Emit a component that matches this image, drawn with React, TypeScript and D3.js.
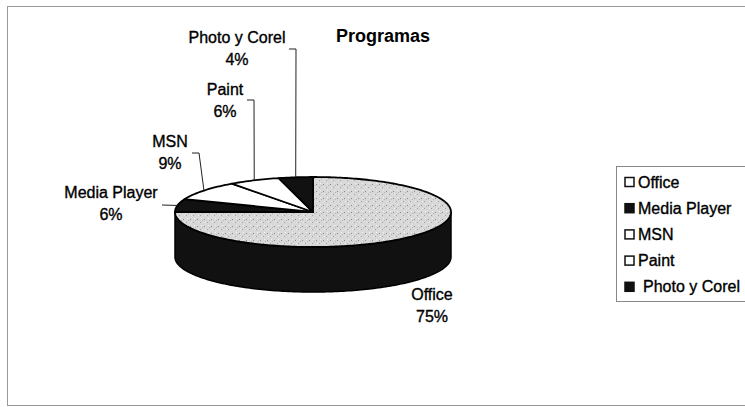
import React from "react";
import * as d3 from "d3";

const categories = ["Office", "Media Player", "MSN", "Paint", "Photo y Corel"];
const values = [75, 6, 9, 6, 4];
const percentLabels = ["75%", "6%", "9%", "6%", "4%"];
const fills = ["url(#speckle)", "#111111", "#ffffff", "#ffffff", "#111111"];
const legendFills = ["#ffffff", "#111111", "#ffffff", "#ffffff", "#111111"];
const title = "Programas";

// label layout: anchor of text (center x, baseline y of first line), leader polyline start
const labelLayout = [
  { x: 432, y: 300, leader: null as null | [number, number][] },
  { x: 111, y: 198, leader: [[162, 205]] },
  { x: 170, y: 147, leader: [[192, 153], [199, 153]] },
  { x: 225, y: 95, leader: [[247, 100], [254, 100]] },
  { x: 237, y: 43, leader: [[289, 49], [296, 49]] },
];

const W = 745;
const H = 407;
const cx = 313;
const cy = 212;
const rx = 138;
const ry = 35;
const depth = 45;
const FONT = "'Liberation Sans', Arial, sans-serif";

function pt(a: number, dy = 0): [number, number] {
  return [cx + rx * Math.sin(a), cy - ry * Math.cos(a) + dy];
}

function arcPoints(a0: number, a1: number, dy = 0): [number, number][] {
  const n = Math.max(2, Math.ceil(Math.abs(a1 - a0) / 0.02));
  const pts: [number, number][] = [];
  for (let i = 0; i <= n; i++) pts.push(pt(a0 + ((a1 - a0) * i) / n, dy));
  return pts;
}

export default function App() {
  const pie = d3.pie<number>().sort(null).value((d) => d);
  const arcs = pie(values);
  const line = d3.line();

  const sides = arcs
    .map((a, i) => {
      const s = Math.max(a.startAngle, Math.PI / 2);
      const e = Math.min(a.endAngle, (3 * Math.PI) / 2);
      if (e <= s) return null;
      const top = arcPoints(s, e);
      const bot = arcPoints(e, s, depth);
      return { i, d: line([...top, ...bot])! + "Z" };
    })
    .filter(Boolean) as { i: number; d: string }[];

  const tops = arcs.map((a, i) => {
    const pts = [[cx, cy] as [number, number], ...arcPoints(a.startAngle, a.endAngle)];
    return { i, d: line(pts)! + "Z" };
  });

  const textStyle = { stroke: "#000", strokeWidth: 0.35 } as const;

  return (
    <svg
      width={W}
      height={H}
      style={{ position: "absolute", left: 0, top: 0, background: "#fff" }}
      fontFamily={FONT}
    >
      <defs>
        <pattern id="speckle" width="7" height="7" patternUnits="userSpaceOnUse">
          <rect width="7" height="7" fill="#d8d8d8" />
          <rect x="1" y="2" width="1" height="1" fill="#8a8a8a" />
          <rect x="4" y="5" width="1" height="1" fill="#a0a0a0" />
          <rect x="5" y="1" width="1" height="1" fill="#f2f2f2" />
          <rect x="2" y="5" width="1" height="1" fill="#ececec" />
          <rect x="6" y="3" width="1" height="1" fill="#b4b4b4" />
        </pattern>
      </defs>
      <rect x={7.5} y={6.5} width={760} height={399} fill="none" stroke="#999" strokeWidth={1} />

      <text x={383} y={42} textAnchor="middle" fontSize={18} fontWeight="bold" fill="#000">
        {title}
      </text>

      {sides.map((s) => (
        <path key={"s" + s.i} d={s.d} fill="#111111" stroke="#000" strokeWidth={1.5} />
      ))}
      {tops.map((t) => (
        <path
          key={"t" + t.i}
          d={t.d}
          fill={fills[t.i]}
          stroke="#000"
          strokeWidth={1.8}
          strokeLinejoin="round"
        />
      ))}

      {arcs.map((a, i) => {
        const lay = labelLayout[i];
        if (!lay.leader) return null;
        const mid = (a.startAngle + a.endAngle) / 2;
        const end = pt(mid);
        return (
          <path
            key={"l" + i}
            d={line([...lay.leader, end])!}
            fill="none"
            stroke="#222"
            strokeWidth={1}
          />
        );
      })}

      {categories.map((c, i) => (
        <text key={"lab" + i} textAnchor="middle" fontSize={16} fill="#000" style={textStyle}>
          <tspan x={labelLayout[i].x} y={labelLayout[i].y}>
            {c}
          </tspan>
          <tspan x={labelLayout[i].x} y={labelLayout[i].y + 22}>
            {percentLabels[i]}
          </tspan>
        </text>
      ))}

      <rect x={616.5} y={166.5} width={140} height={135} fill="#fff" stroke="#888" strokeWidth={1} />
      {categories.map((c, i) => {
        const y = 182 + i * 26.2;
        return (
          <g key={"lg" + i}>
            <rect
              x={625}
              y={y - 4.5}
              width={9}
              height={9}
              fill={legendFills[i]}
              stroke="#111"
              strokeWidth={1.5}
            />
            <text x={i === 4 ? 643 : 638} y={y + 5.5} fontSize={16} fill="#000" style={textStyle}>
              {c}
            </text>
          </g>
        );
      })}
    </svg>
  );
}
